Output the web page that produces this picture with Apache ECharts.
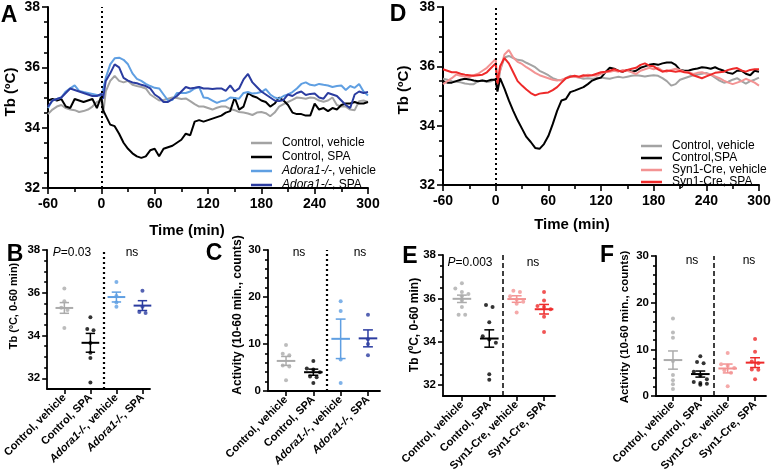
<!DOCTYPE html>
<html><head><meta charset="utf-8">
<script src="https://cdn.jsdelivr.net/npm/echarts@6/dist/echarts.min.js"></script>
<style>html,body{margin:0;padding:0;background:#fff}#c{width:776px;height:474px}</style>
</head><body><div id="c"></div><script>
// ---------- DATA ----------
const timeMin = [-60,-55,-50,-45,-40,-35,-30,-25,-20,-15,-10,-5,0,2,5,10,15,20,25,30,35,40,45,50,55,60,65,70,75,80,85,90,95,100,105,110,115,120,125,130,135,140,145,150,155,160,165,170,175,180,185,190,195,200,205,210,215,220,225,230,235,240,245,250,255,260,265,270,275,280,285,290,295,300];

// Panel A (Tb, ºC)
const aCtrlVeh = [34.45,34.6,34.7,34.75,34.65,34.6,34.58,34.52,34.55,34.6,34.7,34.85,34.9, 34.45,
  35.2,35.55,35.72,35.55,35.5,35.55,35.42,35.38,35.35,35.3,35.1,35.0,
  34.9,34.92,34.96,35.0,34.98,34.95,34.97,34.88,34.78,34.7,34.7,34.65,
  34.6,34.66,34.7,34.7,34.62,34.58,34.52,34.5,34.47,34.42,34.5,34.52,
  34.48,34.38,34.5,34.7,34.78,34.85,34.92,35.0,34.98,34.96,35.0,34.98,
  34.9,34.86,34.9,35.0,34.75,34.7,34.7,34.6,34.58,34.88,34.9,34.85];
const aCtrlSpa = [34.9,34.95,34.9,34.95,34.7,34.65,34.95,34.9,34.85,34.9,34.95,34.65,35.05, 34.58,
  34.4,34.1,34.05,33.8,33.5,33.3,33.15,33.05,33.0,33.05,33.25,33.3,
  33.05,33.3,33.35,33.4,33.5,33.6,33.8,33.75,34.2,34.25,34.2,34.25,
  34.3,34.35,34.4,34.5,34.55,35.0,34.6,34.7,35.15,35.05,35.0,34.9,
  34.85,34.7,34.8,35.0,34.9,34.75,34.5,34.45,34.45,34.4,34.4,34.8,
  34.6,34.65,34.55,34.65,34.6,34.75,34.8,34.8,34.85,34.8,34.8,34.85];
const aKoVeh = [34.65,34.9,34.95,35.0,35.2,35.3,35.4,35.22,35.18,35.15,35.12,35.08,35.05, 35.0,
  35.65,36.1,36.3,36.32,36.25,36.1,35.8,35.62,35.55,35.45,35.38,35.32,
  35.3,35.1,34.9,34.92,35.15,35.15,35.15,35.2,35.3,35.35,35.0,34.98,
  34.9,34.82,34.88,34.9,35.0,34.98,34.96,35.15,35.18,35.13,35.15,35.18,
  35.28,35.1,35.0,34.96,35.05,35.1,35.18,35.3,35.45,35.5,35.42,35.4,
  35.45,35.42,35.4,35.35,35.38,35.4,35.25,35.38,35.32,35.45,35.2,35.07];
const aKoSpa = [34.7,34.9,34.95,35.0,35.15,35.3,35.25,35.2,35.15,35.1,35.05,35.05,35.12, 34.96,
  35.55,35.8,36.1,36.0,35.65,35.56,35.5,35.47,35.42,35.38,35.3,35.1,
  35.0,34.85,34.85,34.95,35.05,35.2,35.35,35.3,35.32,35.35,35.3,35.3,
  35.28,35.3,35.3,35.22,35.4,35.2,35.3,35.6,35.78,35.5,35.35,35.2,
  35.1,35.0,34.9,34.88,34.92,35.1,35.05,35.15,35.2,35.08,35.12,35.13,
  35.0,34.96,35.15,35.1,35.05,34.9,34.75,34.65,35.1,35.2,35.15,35.18];

// Panel D (Tb, ºC)
const dCtrlVeh = [35.58,35.55,35.5,35.48,35.46,35.42,35.4,35.4,35.5,35.52,35.47,35.5,35.58, 35.2,
  35.85,36.3,36.35,36.28,36.22,36.2,36.12,36.05,35.97,35.85,35.78,35.7,
  35.6,35.55,35.52,35.6,35.68,35.65,35.62,35.58,35.6,35.58,35.6,35.62,
  35.6,35.58,35.62,35.65,35.62,35.65,35.68,35.7,35.68,35.66,35.68,35.7,
  35.68,35.6,35.5,35.35,35.4,35.55,35.6,35.65,35.7,35.72,35.75,35.78,
  35.72,35.62,35.52,35.45,35.48,35.55,35.6,35.5,35.42,35.5,35.55,35.62];
const dCtrlSpa = [35.5,35.45,35.45,35.5,35.55,35.58,35.56,35.52,35.5,35.52,35.5,35.55,35.55, 35.15,
  35.6,35.25,34.85,34.5,34.18,33.9,33.62,33.45,33.25,33.22,33.38,33.65,
  34.05,34.5,34.85,34.9,35.13,35.18,35.24,35.3,35.4,35.52,35.58,35.62,
  35.8,35.95,35.92,35.85,35.82,35.88,35.82,35.85,35.95,36.0,36.05,36.08,
  36.05,36.1,36.13,36.13,36.05,35.88,35.85,35.86,35.9,35.93,35.97,35.95,
  35.92,35.97,35.9,35.85,35.78,35.75,35.85,35.85,35.75,35.7,35.85,35.82];
const dSynVeh = [35.4,35.5,35.6,35.72,35.68,35.66,35.64,35.7,35.75,35.85,35.95,36.1,36.25, 35.5,
  35.85,36.4,36.55,36.3,36.15,36.08,35.97,35.88,35.78,35.7,35.65,35.6,
  35.55,35.52,35.55,35.6,35.65,35.65,35.63,35.65,35.72,35.7,35.68,35.75,
  35.8,35.82,35.85,35.82,35.88,35.85,35.8,35.74,35.85,35.9,35.95,35.9,
  35.95,35.85,35.82,35.88,35.92,35.88,35.82,35.8,35.74,35.78,35.8,35.75,
  35.72,35.66,35.6,35.52,35.45,35.4,35.45,35.5,35.58,35.52,35.45,35.35];
const dSynSpa = [35.9,35.85,35.8,35.8,35.75,35.72,35.7,35.68,35.7,35.72,35.8,35.95,36.1, 35.4,
  36.0,36.28,36.1,35.8,35.5,35.35,35.22,35.1,35.02,35.08,35.1,35.12,
  35.2,35.3,35.45,35.6,35.65,35.68,35.65,35.7,35.68,35.7,35.75,35.8,
  35.82,35.85,35.9,35.85,35.82,35.88,35.92,35.95,36.05,36.1,36.02,36.0,
  35.9,35.82,35.86,35.84,35.82,35.84,35.8,35.78,35.7,35.65,35.6,35.66,
  35.72,35.78,35.8,35.82,35.88,35.92,35.94,35.86,35.82,35.88,35.9,35.9];

// Panels B / C (Adora1)
const adoraCats = ['Control, vehicle','Control, SPA','Adora1-/-, vehicle','Adora1-/-, SPA'];
const bPoints = [[36.2,35.6,35.3,35.2,34.35],[34.85,34.3,34.25,33.65,33.2,32.95,31.8],[36.5,35.85,35.55,35.35],[36.1,35.35,35.1,35.05]];
const bMean = [35.29,33.66,35.8,35.4];
const bSem = [0.25,0.44,0.23,0.23];
const cPoints = [[9.8,7.9,7.6,5.4,5.2,2.3],[6.4,4.8,4.6,4.0,3.1,2.9,1.7],[19.1,17.0,6.7,1.7],[16.2,11.0,10.0,7.6]];
const cMean = [6.4,4.0,11.1,11.2];
const cSem = [0.95,0.65,4.2,1.8];

// Panels E / F (Syn1-Cre)
const synCats = ['Control, vehicle','Control, SPA','Syn1-Cre, vehicle','Syn1-Cre, SPA'];
const ePoints = [[36.7,36.45,36.3,36.2,36.1,35.9,35.6,35.25,35.25],[35.7,35.6,34.9,34.25,34.1,33.95,32.5,32.25],[36.35,36.3,36.1,35.95,35.85,35.75,35.35],[36.3,35.9,35.65,35.6,35.5,35.15,34.45]];
const eMean = [35.98,34.15,35.97,35.5];
const eSem = [0.17,0.4,0.15,0.22];
const fPoints = [[16.6,13.6,12.5,7.5,4.5,3.4,2.5,1.5],[8.5,7.3,7.0,5.2,4.4,3.6,3.0,2.8,2.6,2.4],[9.2,6.8,6.5,6.0,5.5,5.0,2.1],[12.2,9.5,7.4,7.0,5.7,5.6,3.6]];
const fMean = [7.7,4.7,5.9,7.15];
const fSem = [1.95,0.65,0.95,1.05];

const tbTicks = [32,34,36,38];
const tbMinorTicks = [32.5,33,33.5,34.5,35,35.5,36.5,37,37.5];

// ---------- STYLE ----------
const FONT = 'Liberation Sans, Arial, Helvetica, sans-serif';
const C = {gray:'#a3a3a3', grayPt:'#ababab', black:'#000000', lblue:'#5f9fe2', dblue:'#2b3ca0', salmon:'#f39393', red:'#ee2a2a'};
const adoraColors = [C.grayPt, C.black, C.lblue, C.dblue];
const synColors = [C.grayPt, C.black, C.salmon, C.red];

const axLine = {show:true, onZero:false, lineStyle:{color:'#000', width:2}};
const tickStyle = {color:'#000', width:1.6};

function timeX(g){ return {type:'value', gridIndex:g, min:-60, max:300, interval:60,
  axisLine:axLine, axisTick:{show:true, length:6, lineStyle:tickStyle},
  minorTick:{show:true, splitNumber:2, length:4, lineStyle:tickStyle},
  axisLabel:{color:'#000', fontWeight:'bold', fontSize:14, fontFamily:FONT, margin:9, showMinLabel:true, showMaxLabel:true},
  splitLine:{show:false}, minorSplitLine:{show:false}}; }
function tbY(g){ return {type:'value', gridIndex:g, min:32, max:38, interval:2,
  axisLine:axLine, axisTick:{show:true, length:6, lineStyle:tickStyle},
  minorTick:{show:true, splitNumber:4, length:4, lineStyle:tickStyle},
  axisLabel:{color:'#000', fontWeight:'bold', fontSize:14, fontFamily:FONT, margin:8},
  splitLine:{show:false}, minorSplitLine:{show:false}}; }
function catX(g, min, max, cats){ return {type:'value', gridIndex:g, min:min, max:max,
  axisLine:{show:true, onZero:false, lineStyle:{color:'#000', width:1.8}},
  axisTick:{show:true, length:5, customValues:[0,1,2,3], lineStyle:tickStyle},
  axisLabel:{customValues:[0,1,2,3], rotate:45, margin:7, color:'#000', fontWeight:'bold', fontSize:11, fontFamily:FONT,
    formatter:function(v){ const s = cats[Math.round(v)];
      if (s.indexOf('Adora1-/-')===0) return '{i|Adora1-/-}{b|' + s.slice(9) + '}';
      return '{b|' + s + '}'; },
    rich:{i:{fontStyle:'italic', fontWeight:'bold', fontSize:11, fontFamily:FONT, color:'#000'},
          b:{fontWeight:'bold', fontSize:11, fontFamily:FONT, color:'#000'}}},
  splitLine:{show:false}}; }
function tbScatterY(g){ return {type:'value', gridIndex:g, min:31.5, max:38,
  axisLine:{show:true, onZero:false, lineStyle:{color:'#000', width:1.8}},
  axisTick:{show:true, length:5, customValues:tbTicks, lineStyle:tickStyle},
  axisLabel:{customValues:tbTicks, color:'#000', fontWeight:'bold', fontSize:11.5, fontFamily:FONT, margin:7},
  splitLine:{show:false}}; }
function tbMinorY(g){ return {type:'value', gridIndex:g, min:31.5, max:38, position:'left',
  axisLine:{show:false, onZero:false}, axisTick:{show:true, length:3, customValues:tbMinorTicks, lineStyle:tickStyle},
  axisLabel:{show:false}, splitLine:{show:false}}; }
function actY(g){ return {type:'value', gridIndex:g, min:0, max:30, interval:10,
  axisLine:{show:true, onZero:false, lineStyle:{color:'#000', width:1.8}},
  axisTick:{show:true, length:5, lineStyle:tickStyle},
  minorTick:{show:true, splitNumber:5, length:3, lineStyle:tickStyle},
  axisLabel:{color:'#000', fontWeight:'bold', fontSize:11.5, fontFamily:FONT, margin:7},
  splitLine:{show:false}, minorSplitLine:{show:false}}; }

function lineSeries(name, vals, color, g, mark){
  const s = {type:'line', name:name, xAxisIndex:g, yAxisIndex:g, color:color,
    data: timeMin.map((t,i)=>[t, vals[i]]), showSymbol:false, symbol:'none',
    lineStyle:{width:2, color:color}, animation:false, silent:true};
  if (mark) s.markLine = {silent:true, symbol:'none', label:{show:false},
    lineStyle:{color:'#000', width:2, type:[2,3]}, data:[{xAxis:0}]};
  return s;
}

// simple swarm: cluster close values and spread them horizontally
function swarm(vals, idx, thr){
  const sorted = vals.slice().sort((a,b)=>b-a);
  const out = []; let cl = [];
  const flush = ()=>{ const n = cl.length; cl.forEach((v,j)=>out.push([idx + (j-(n-1)/2)*0.24, v])); cl = []; };
  sorted.forEach(v=>{ if (cl.length && (Math.abs(cl[cl.length-1]-v) >= thr || cl.length>=3)) flush(); cl.push(v); });
  flush();
  return out;
}
function meanSem(colors){ return function(params, api){
  const i = api.value(0), m = api.value(1), s = api.value(2);
  const c = colors[params.dataIndex];
  const seg = (x1,y1,x2,y2,w)=>{ const a = api.coord([x1,y1]), b = api.coord([x2,y2]);
    return {type:'line', shape:{x1:a[0], y1:a[1], x2:b[0], y2:b[1]}, style:{stroke:c, lineWidth:w}}; };
  return {type:'group', children:[
    seg(i-0.34,m,i+0.34,m,2), seg(i,m-s,i,m+s,1.5),
    seg(i-0.18,m+s,i+0.18,m+s,1.5), seg(i-0.18,m-s,i+0.18,m-s,1.5)]};
}; }
function dotPanel(tag, g, yIdx, pts, means, sems, colors, thr, dividerType){
  const out = [];
  pts.forEach((arr,k)=>{
    const s = {type:'scatter', name:tag+k, xAxisIndex:g, yAxisIndex:yIdx, data:swarm(arr,k,thr),
      symbolSize:4, itemStyle:{color:colors[k]}, silent:true, animation:false, z:3};
    if (k===0) s.markLine = {silent:true, symbol:'none', label:{show:false},
      lineStyle:{color:'#000', width:dividerType==='dotted'?2.2:1.5, type:dividerType==='dotted'?[2,3]:[5,3]}, data:[{xAxis:1.5}]};
    out.push(s);
  });
  out.push({type:'custom', name:tag+'m', xAxisIndex:g, yAxisIndex:yIdx, clip:false, silent:true, animation:false, z:4,
    data: means.map((m,k)=>[k, m, sems[k]]), encode:{x:0, y:1}, renderItem:meanSem(colors)});
  return out;
}

function txt(x, y, text, font, opts){
  opts = opts || {};
  return {type:'text', x:x, y:y, rotation:opts.rot||0, silent:true,
    style:{text:text, font:font, fill:'#000', align:opts.align||'center', verticalAlign:'middle',
      textAlign:opts.align||'center', textVerticalAlign:'middle', rich:opts.rich}};
}
const italicRich = {i:{fontStyle:'italic', fontSize:12, fontFamily:FONT, fill:'#000', color:'#000'}, n:{fontSize:12, fontFamily:FONT, color:'#000'}};
const letterFont = 'bold 23px ' + FONT;

const legendCommon = {orient:'vertical', itemGap:0, itemWidth:21, itemHeight:2.5, icon:'rect', selectedMode:false,
  formatter:function(n){ return n.indexOf('Adora1-/-')===0 ? '{i|Adora1-/-}' + n.slice(9) : n; }};

const option = {
  animation:false, backgroundColor:'#fff',
  grid:[
    {left:48, top:6, width:320, height:182},
    {left:443, top:6, width:316, height:179},
    {left:42, top:250, width:108, height:139},
    {left:268, top:250, width:112, height:141},
    {left:443, top:255, width:112, height:141},
    {left:656, top:256, width:110, height:140}
  ],
  xAxis:[ timeX(0), timeX(1),
    catX(2,-0.66,3.29,adoraCats), catX(3,-0.66,3.44,adoraCats),
    catX(4,-0.69,3.4,synCats), catX(5,-0.62,3.4,synCats) ],
  yAxis:[ tbY(0), tbY(1), tbScatterY(2), actY(3), tbScatterY(4), actY(5), tbMinorY(2), tbMinorY(4) ],
  legend:[
    Object.assign({}, legendCommon, {left:246, top:131,
      data:['Control, vehicle','Control, SPA','Adora1-/-, vehicle','Adora1-/-, SPA'],
      textStyle:{fontFamily:FONT, fontSize:12, color:'#000', lineHeight:14, padding:[0,0,0,5],
        rich:{i:{fontStyle:'italic', fontSize:12, fontFamily:FONT, color:'#000', lineHeight:14}}}}),
    Object.assign({}, legendCommon, {left:636, top:135,
      data:['Control, vehicle','Control,SPA','Syn1-Cre, vehicle','Syn1-Cre, SPA'],
      textStyle:{fontFamily:FONT, fontSize:12, color:'#000', lineHeight:12, padding:[0,0,0,5]}})
  ],
  series:[
    lineSeries('Control, vehicle', aCtrlVeh, C.gray, 0, true),
    lineSeries('Control, SPA', aCtrlSpa, C.black, 0),
    lineSeries('Adora1-/-, vehicle', aKoVeh, C.lblue, 0),
    lineSeries('Adora1-/-, SPA', aKoSpa, C.dblue, 0),
    lineSeries('Control, vehicle', dCtrlVeh, C.gray, 1, true),
    lineSeries('Control,SPA', dCtrlSpa, C.black, 1),
    lineSeries('Syn1-Cre, vehicle', dSynVeh, C.salmon, 1),
    lineSeries('Syn1-Cre, SPA', dSynSpa, C.red, 1),
    ...dotPanel('b',2,2,bPoints,bMean,bSem,adoraColors,0.19,'dotted'),
    ...dotPanel('c',3,3,cPoints,cMean,cSem,adoraColors,0.85,'dotted'),
    ...dotPanel('e',4,4,ePoints,eMean,eSem,synColors,0.19,'dashed'),
    ...dotPanel('f',5,5,fPoints,fMean,fSem,synColors,0.85,'dashed')
  ],
  graphic:[
    txt(9,16,'A',letterFont), txt(398,15,'D',letterFont), txt(15,255,'B',letterFont),
    txt(214,254,'C',letterFont), txt(410,257,'E',letterFont), txt(607,256,'F',letterFont),
    txt(11,92,'Tb (ºC)','bold 15px '+FONT,{rot:Math.PI/2}),
    txt(404,90,'Tb (ºC)','bold 15px '+FONT,{rot:Math.PI/2}),
    txt(187,231,'Time (min)','bold 15px '+FONT),
    txt(572,225,'Time (min)','bold 15px '+FONT),
    txt(14,306,'Tb (ºC, 0-60 min)','bold 11px '+FONT,{rot:Math.PI/2}),
    txt(238,315,'Activity (10-60 min., counts)','bold 12px '+FONT,{rot:Math.PI/2}),
    txt(415,325,'Tb (ºC, 0-60 min)','bold 12px '+FONT,{rot:Math.PI/2}),
    txt(625,327,'Activity (10-60 min., counts)','bold 11.5px '+FONT,{rot:Math.PI/2}),
    txt(72,253,'{i|P}{n|=0.03}','12px '+FONT,{rich:italicRich}),
    txt(132,253,'ns','12px '+FONT),
    txt(299,253,'ns','12px '+FONT), txt(360,253,'ns','12px '+FONT),
    txt(470,262.5,'{i|P}{n|=0.003}','12px '+FONT,{rich:italicRich}),
    txt(533,262.5,'ns','12px '+FONT),
    txt(692,260.5,'ns','12px '+FONT), txt(749,260.5,'ns','12px '+FONT)
  ]
};
const chart = echarts.init(document.getElementById('c'), null, {renderer:'canvas'});
chart.setOption(option);
</script></body></html>
